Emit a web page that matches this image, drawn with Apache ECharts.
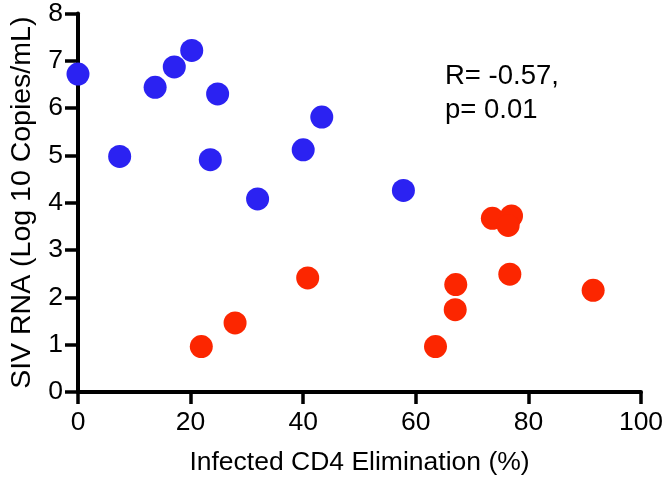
<!DOCTYPE html>
<html>
<head>
<meta charset="utf-8">
<script src="https://cdn.jsdelivr.net/npm/echarts@6/dist/echarts.min.js"></script>
<style>html,body{margin:0;padding:0;background:#fff;}#c{width:667px;height:484px;}</style>
</head>
<body>
<div id="c"></div>
<script>
var blueX = [0, 7.4, 13.7, 17.1, 20.2, 24.8, 23.5, 31.9, 40.0, 43.3, 57.8];
var blueY = [6.72, 4.98, 6.44, 6.87, 7.22, 6.30, 4.91, 4.08, 5.12, 5.81, 4.26];
var redX = [21.9, 27.9, 40.8, 63.5, 67.1, 67.0, 76.7, 91.5, 73.6, 77.0, 76.4];
var redY = [0.96, 1.46, 2.41, 0.96, 2.27, 1.74, 2.49, 2.15, 3.67, 3.72, 3.52];
var xTicks = [0, 20, 40, 60, 80, 100];
var yTicks = [0, 1, 2, 3, 4, 5, 6, 7, 8];
var statText = ['R= -0.57,', 'p= 0.01'];
var xTitle = 'Infected CD4 Elimination (%)';
var yTitle = 'SIV RNA (Log 10 Copies/mL)';

function pairs(xs, ys) { return xs.map(function (x, i) { return [x, ys[i]]; }); }
var FONT = 'Liberation Sans, Arial, Helvetica, sans-serif';

var chart = echarts.init(document.getElementById('c'));
chart.setOption({
  animation: false,
  backgroundColor: '#ffffff',
  grid: { left: 75, right: 26, top: 13, bottom: 92, containLabel: false },
  xAxis: {
    type: 'value', min: xTicks[0], max: xTicks[xTicks.length - 1], interval: xTicks[1] - xTicks[0],
    name: xTitle, nameLocation: 'middle', nameGap: 57,
    nameTextStyle: { fontFamily: FONT, fontSize: 26.5, color: '#000' },
    axisLine: { onZero: false, lineStyle: { color: '#000', width: 4 } },
    axisTick: { show: true, length: 12, lineStyle: { color: '#000', width: 3.5 } },
    axisLabel: { margin: 17, fontFamily: FONT, fontSize: 26.5, color: '#000' },
    splitLine: { show: false }
  },
  yAxis: {
    type: 'value', min: yTicks[0], max: yTicks[yTicks.length - 1], interval: 1,
    name: yTitle, nameLocation: 'middle', nameGap: 41,
    nameTextStyle: { fontFamily: FONT, fontSize: 28.5, color: '#000' },
    axisLine: { onZero: false, lineStyle: { color: '#000', width: 4 } },
    axisTick: { show: true, length: 13, lineStyle: { color: '#000', width: 3.5 } },
    axisLabel: { margin: 15, fontFamily: FONT, fontSize: 26.5, color: '#000' },
    splitLine: { show: false }
  },
  series: [
    { type: 'scatter', data: pairs(blueX, blueY), symbol: 'circle', symbolSize: 23, clip: false,
      itemStyle: { color: '#2B22F2', opacity: 1 }, z: 5 },
    { type: 'scatter', data: pairs(redX, redY), symbol: 'circle', symbolSize: 23, clip: false,
      itemStyle: { color: '#FC2600', opacity: 1 }, z: 5 }
  ],
  graphic: [
    { type: 'text', left: 445, top: 62, style: { text: statText[0], font: '27.5px ' + FONT, fill: '#000' } },
    { type: 'text', left: 445, top: 96, style: { text: statText[1], font: '27.5px ' + FONT, fill: '#000' } }
  ]
});
</script>
</body>
</html>
